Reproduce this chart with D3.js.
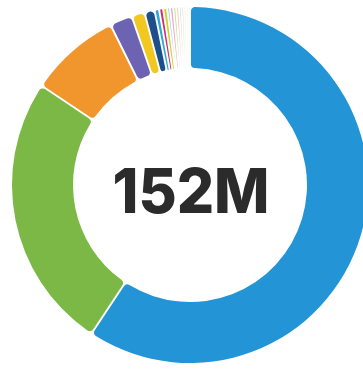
<!DOCTYPE html>
<html>
<head>
<meta charset="utf-8">
<script src="https://cdn.jsdelivr.net/npm/d3@7"></script>
<style>
  html, body { margin: 0; padding: 0; background: #fff; overflow: hidden; }
  svg { display: block; }
</style>
</head>
<body>
<svg id="chart" width="363" height="369"></svg>
<script>
// Audience split by segment, in millions (total 152M)
const segments = ["A", "B", "C", "D", "E", "F", "G", "H", "I", "J", "K", "L", "M", "N", "O", "P", "Q", "R"];
const values   = [90.2, 38.1, 12.6, 3.1, 1.8, 1.4, 0.63, 0.55, 0.55, 0.38, 0.45, 0.4, 0.38, 0.35, 0.32, 0.3, 0.28, 0.26];
const colors   = ["#2394d6", "#7cb846", "#f0962c", "#6c64b2", "#f2c71f", "#1d4f8c", "#2aa9da", "#d8286f",
                  "#cbd42c", "#8fd0ef", "#f5a3bb", "#b9e0a0", "#f8c88e", "#c9d9ea", "#f7bfc7", "#e2e2a2", "#f1b2a2", "#d6d6d6"];
const totalLabel = "152M";

const svg = d3.select("#chart");
const cx = 190, cy = 185;
const outerR = 178, innerR = 117;

const color = d3.scaleOrdinal().domain(segments).range(colors);

const pie = d3.pie()
  .value(d => d.value)
  .sort(null)
  .startAngle(0)
  .endAngle(2 * Math.PI);

const arc = d3.arc()
  .innerRadius(innerR)
  .outerRadius(outerR)
  .padAngle(0.009)
  .cornerRadius(4);

const data = segments.map((s, i) => ({ segment: s, value: values[i] }));

const g = svg.append("g").attr("transform", `translate(${cx},${cy})`);

g.selectAll("path")
  .data(pie(data))
  .join("path")
  .attr("d", arc)
  .attr("fill", d => color(d.data.segment));

// Total in the middle of the ring
g.append("text")
  .attr("x", 1)
  .attr("y", 28)
  .attr("text-anchor", "middle")
  .attr("font-family", "Inter, 'Open Sans', sans-serif")
  .attr("font-weight", 800)
  .attr("font-size", 62)
  .attr("fill", "#2b2b2b")
  .attr("textLength", 157)
  .attr("lengthAdjust", "spacingAndGlyphs")
  .text(totalLabel);
</script>
</body>
</html>
